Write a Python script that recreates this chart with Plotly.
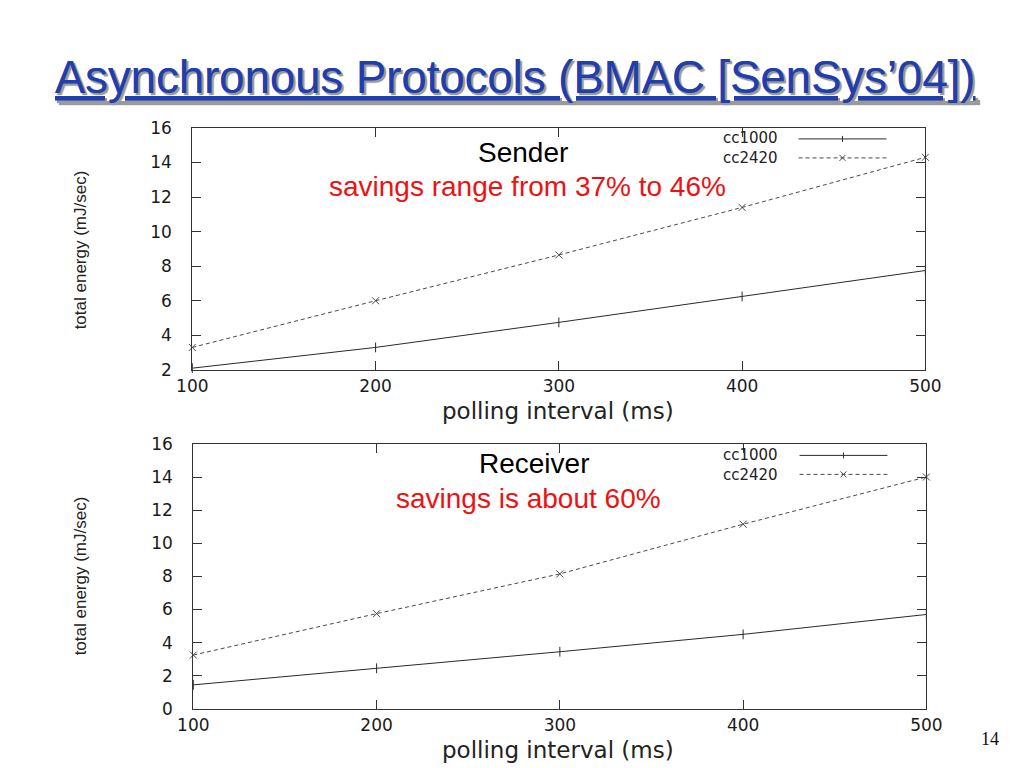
import plotly.graph_objects as go

# ---- data ----
polling_ms = [100, 200, 300, 400, 500]
sender_cc1000 = [2.1, 3.3, 4.75, 6.25, 7.75]
sender_cc2420 = [3.3, 6.0, 8.65, 11.4, 14.3]
receiver_cc1000 = [1.45, 2.45, 3.45, 4.5, 5.7]
receiver_cc2420 = [3.25, 5.75, 8.15, 11.15, 14.0]
series_names = ["cc1000", "cc2420"]
x_ticks = [100, 200, 300, 400, 500]
y_ticks_top = [2, 4, 6, 8, 10, 12, 14, 16]
y_ticks_bottom = [0, 2, 4, 6, 8, 10, 12, 14, 16]

OFF = 8
W, H = 1024, 768
# measured page -> photo mapping (photo = A + S * page)
SX, AX = 0.970, 14.7
SY, AY = 0.974, 9.3
def px(x):
    return ((x - AX) / SX - OFF) / W
def py(y):
    return 1 - ((y - AY) / SY - OFF) / H

LINE1 = "#2a2a2a"
LINE2 = "#4a4a4a"
TICKFONT = dict(family="DejaVu Sans", size=17, color="#1a1a1a")

fig = go.Figure()

def add_pair(xa, ya, y1, y2):
    fig.add_trace(go.Scatter(x=polling_ms, y=y1, xaxis=xa, yaxis=ya, mode="lines+markers",
                             name=series_names[0], showlegend=False, cliponaxis=False,
                             line=dict(color=LINE1, width=1),
                             marker=dict(symbol="line-ns", size=7, line=dict(color=LINE1, width=1))))
    fig.add_trace(go.Scatter(x=polling_ms, y=y2, xaxis=xa, yaxis=ya, mode="lines+markers",
                             name=series_names[1], showlegend=False, cliponaxis=False,
                             line=dict(color=LINE2, width=1, dash="4px,3px"),
                             marker=dict(symbol="x-thin", size=7, line=dict(color=LINE2, width=1))))

add_pair("x", "y", sender_cc1000, sender_cc2420)
add_pair("x2", "y2", receiver_cc1000, receiver_cc2420)

axis_common = dict(showline=True, linecolor="#333333", linewidth=1, mirror="ticks",
                   ticks="inside", ticklen=9, tickcolor="#333333", showgrid=False,
                   zeroline=False, tickfont=TICKFONT)

fig.update_layout(
    width=W, height=H, margin=dict(l=0, r=0, t=0, b=0),
    paper_bgcolor="white", plot_bgcolor="white",
    xaxis=dict(domain=[px(191), px(925)], range=[100, 500], tickvals=x_ticks, anchor="y",
               ticklabelstandoff=1, **axis_common),
    yaxis=dict(domain=[py(369), py(127)], range=[2, 16], tickvals=y_ticks_top, anchor="x",
               ticklabelstandoff=16, **axis_common),
    xaxis2=dict(domain=[px(192), px(926)], range=[100, 500], tickvals=x_ticks, anchor="y2",
                ticklabelstandoff=1, **axis_common),
    yaxis2=dict(domain=[py(708), py(443)], range=[0, 16], tickvals=y_ticks_bottom, anchor="x2",
                ticklabelstandoff=16, **axis_common),
)

ann = []
# title
ann.append(dict(text="<u>Asynchronous Protocols (BMAC [SenSys’04])</u>", x=px(515), y=py(77),
                xref="paper", yref="paper", showarrow=False, xanchor="center", yanchor="middle",
                font=dict(family="Liberation Sans", size=45.5,
                          color="#1F3EB0", shadow="2px 2px 1px #9a9a9a")))
# axis titles
for yc in (249, 575):
    ann.append(dict(text="total energy (mJ/sec)", x=px(79), y=py(yc), xref="paper", yref="paper",
                    showarrow=False, textangle=-90, xanchor="center", yanchor="middle",
                    font=dict(family="Liberation Sans", size=17, color="#222222")))
for yc in (410, 749):
    ann.append(dict(text="polling interval (ms)", x=px(557), y=py(yc), xref="paper", yref="paper",
                    showarrow=False, xanchor="center", yanchor="middle",
                    font=dict(family="DejaVu Sans", size=23, color="#222222")))
# panel notes
notes = [("Sender", 522, 152, "black"), ("savings range from 37% to 46%", 527, 186, "#EE1111"),
         ("Receiver", 533, 463, "black"), ("savings is about 60%", 528, 498, "#EE1111")]
for t, xc, yc, col in notes:
    ann.append(dict(text=t, x=px(xc), y=py(yc), xref="paper", yref="paper", showarrow=False,
                    xanchor="center", yanchor="middle",
                    font=dict(family="Liberation Sans", size=28, color=col)))
# page number
ann.append(dict(text="14", x=px(990), y=py(738), xref="paper", yref="paper", showarrow=False,
                xanchor="center", yanchor="middle",
                font=dict(family="Liberation Serif", size=18, color="#111111")))

# manual legends (text left, sample right)
LEG_FS = 15
gap = 1.3 * LEG_FS * SY
shapes = []
for (yc, x0, x1) in [(147.5, 798, 886), (464, 799, 887)]:
    y1, y2 = yc - gap / 2, yc + gap / 2
    ann.append(dict(text="<br>".join(series_names), x=px(779), y=py(yc), xref="paper", yref="paper",
                    showarrow=False, xanchor="right", yanchor="middle", align="right",
                    font=dict(family="DejaVu Sans", size=LEG_FS, color="#222222")))
    xm = (x0 + x1) / 2
    shapes.append(dict(type="line", xref="paper", yref="paper", x0=px(x0), x1=px(x1), y0=py(y1), y1=py(y1),
                       line=dict(color=LINE1, width=1)))
    shapes.append(dict(type="line", xref="paper", yref="paper", x0=px(xm), x1=px(xm), y0=py(y1 - 3), y1=py(y1 + 3),
                       line=dict(color=LINE1, width=1)))
    shapes.append(dict(type="line", xref="paper", yref="paper", x0=px(x0), x1=px(x1), y0=py(y2), y1=py(y2),
                       line=dict(color=LINE2, width=1, dash="4px,3px")))
    shapes.append(dict(type="line", xref="paper", yref="paper", x0=px(xm - 3), x1=px(xm + 3), y0=py(y2 - 3), y1=py(y2 + 3),
                       line=dict(color=LINE2, width=1)))
    shapes.append(dict(type="line", xref="paper", yref="paper", x0=px(xm - 3), x1=px(xm + 3), y0=py(y2 + 3), y1=py(y2 - 3),
                       line=dict(color=LINE2, width=1)))

fig.update_layout(annotations=ann, shapes=shapes)
fig.write_html("out.html")
